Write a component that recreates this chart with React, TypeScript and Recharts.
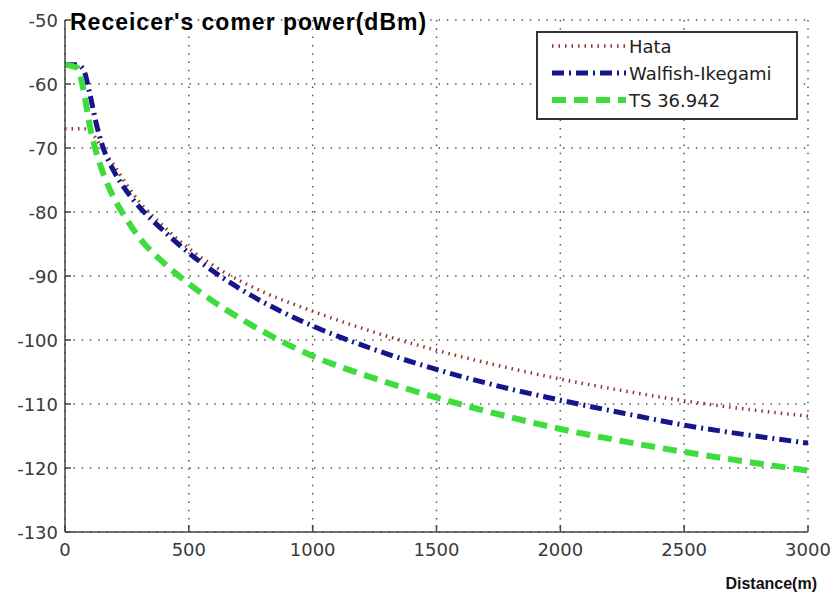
import { CartesianGrid, Line, LineChart, XAxis, YAxis } from 'recharts'

// distance from the base station (m)
const distances = [
  0, 50, 75, 100, 125, 150, 200, 250, 300, 400, 500, 600, 750, 1000, 1250,
  1500, 1750, 2000, 2250, 2500, 2750, 3000,
]

// received power (dBm) for each propagation model
const hataPower = [
  -67, -67, -67, -67.3, -68.5, -70, -72.8, -75.8, -78.4, -82.3, -85.7, -88.4,
  -91.6, -95.5, -98.8, -101.6, -104, -106.1, -107.9, -109.5, -110.8, -111.9,
]
const walfishPower = [
  -57, -57, -57.8, -61.5, -66, -69.5, -73.8, -76.8, -79.2, -83, -86.4, -89.3,
  -93, -97.8, -101.5, -104.6, -107.2, -109.4, -111.4, -113.3, -114.8, -116.1,
]
const tsPower = [
  -57, -57.5, -61, -66.5, -70.5, -73.5, -78, -81.2, -84, -88, -91.2, -94,
  -97.6, -102.5, -106, -109, -111.6, -113.9, -115.8, -117.5, -119, -120.4,
]

const xTicks = [0, 500, 1000, 1500, 2000, 2500, 3000]
const yTicks = [-130, -120, -110, -100, -90, -80, -70, -60, -50]

const series = [
  { name: 'Hata', values: hataPower, color: '#8e3526', width: 3.5, dash: '1.5 5' },
  { name: 'Walfish-Ikegami', values: walfishPower, color: '#15158c', width: 5, dash: '12 5 2 5' },
  { name: 'TS 36.942', values: tsPower, color: '#3fdc3f', width: 6, dash: '14 8' },
]

const rows = distances.map((d, i) => ({
  d,
  hata: hataPower[i],
  walfish: walfishPower[i],
  ts: tsPower[i],
}))
const keys = ['hata', 'walfish', 'ts']

const tickFont = 'DejaVu Sans, sans-serif'

const YTick = ({ x, y, payload }: any) => (
  <g>
    <line x1={x} x2={x + 6} y1={y} y2={y} stroke="#444" strokeWidth={1.5} />
    <text
      x={x - 7}
      y={y}
      textAnchor="end"
      dominantBaseline="central"
      fontSize={18}
      fontFamily={tickFont}
      fill="#3a3a3a"
    >
      {payload.value}
    </text>
  </g>
)

const XTick = ({ x, y, payload }: any) => (
  <g>
    <line x1={x} x2={x} y1={y} y2={y - 7} stroke="#444" strokeWidth={1.5} />
    <text
      x={x}
      y={y + 17}
      textAnchor="middle"
      dominantBaseline="central"
      fontSize={18}
      fontFamily={tickFont}
      fill="#3a3a3a"
    >
      {payload.value}
    </text>
  </g>
)

export default function App() {
  return (
    <div style={{ position: 'absolute', left: 0, top: 0, width: 832, height: 596, background: '#fff' }}>
      <LineChart
        width={832}
        height={596}
        data={rows}
        margin={{ top: 20, right: 24, bottom: 0, left: 0 }}
      >
        <CartesianGrid
          stroke="#555"
          strokeWidth={1.5}
          strokeDasharray="1.5 6.8"
          horizontalValues={yTicks}
          verticalValues={xTicks}
        />
        <XAxis
          dataKey="d"
          type="number"
          domain={[0, 3000]}
          ticks={xTicks}
          interval={0}
          height={64}
          tickSize={0}
          tickMargin={0}
          tickLine={false}
          axisLine={{ stroke: '#444', strokeWidth: 1.5 }}
          tick={<XTick />}
        />
        <YAxis
          type="number"
          domain={[-130, -50]}
          ticks={yTicks}
          interval={0}
          width={65}
          tickSize={0}
          tickMargin={0}
          tickLine={false}
          axisLine={{ stroke: '#444', strokeWidth: 1.5 }}
          tick={<YTick />}
        />
        {series.map((s, i) => (
          <Line
            key={s.name}
            name={s.name}
            dataKey={keys[i]}
            type="monotone"
            stroke={s.color}
            strokeWidth={s.width}
            strokeDasharray={s.dash}
            dot={false}
            activeDot={false}
            isAnimationActive={false}
          />
        ))}
      </LineChart>

      <svg
        width={832}
        height={596}
        style={{ position: 'absolute', left: 0, top: 0, pointerEvents: 'none' }}
      >
        <text
          x={70}
          y={30}
          fontSize={23}
          letterSpacing={1}
          fontWeight="bold"
          fontFamily="Liberation Sans, Arial, sans-serif"
          fill="#000"
        >
          Receicer's comer power(dBm)
        </text>
        <text
          x={817}
          y={589}
          textAnchor="end"
          fontSize={16}
          fontWeight="bold"
          fontFamily="Liberation Sans, Arial, sans-serif"
          fill="#111"
        >
          Distance(m)
        </text>

        <rect x={537} y={32} width={260} height={87} fill="#fff" stroke="#333" strokeWidth={2} />
        {series.map((s, i) => {
          const cy = 46 + i * 27
          return (
            <g key={s.name}>
              <line
                x1={552}
                x2={626}
                y1={cy}
                y2={cy}
                stroke={s.color}
                strokeWidth={s.width}
                strokeDasharray={s.dash}
              />
              <text
                x={629}
                y={cy + 6.5}
                fontSize={18}
                fontFamily={tickFont}
                fill="#222"
              >
                {s.name}
              </text>
            </g>
          )
        })}
      </svg>
    </div>
  )
}
